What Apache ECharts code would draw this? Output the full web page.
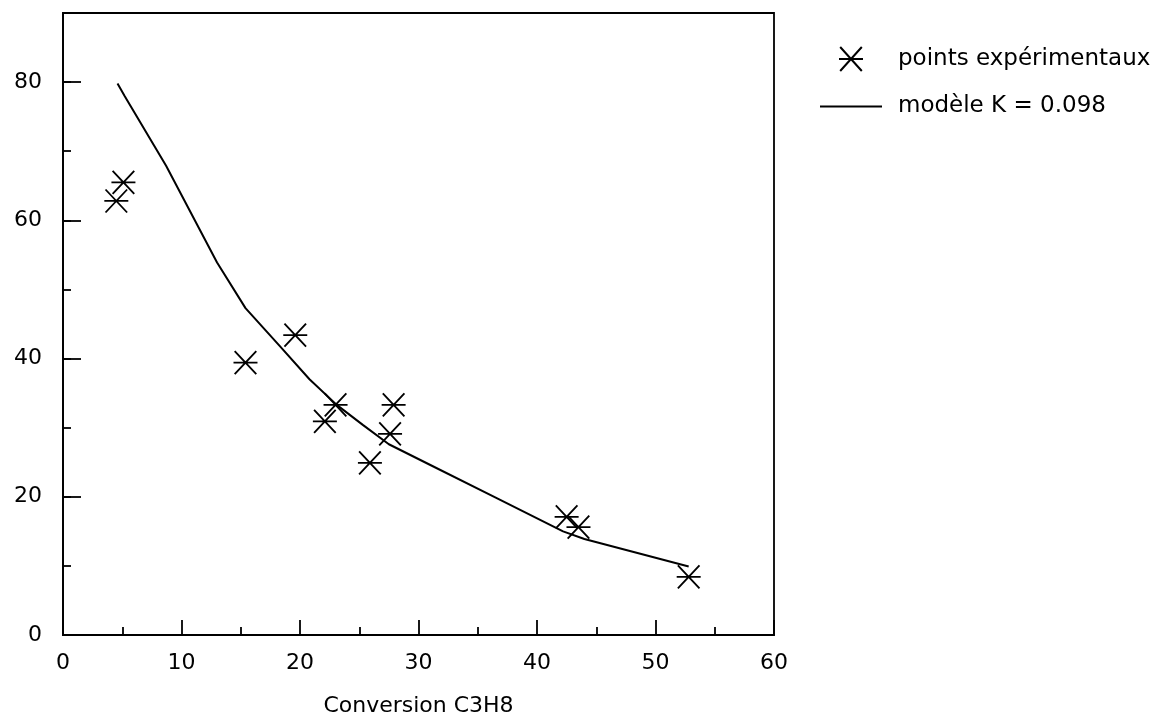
<!DOCTYPE html>
<html>
<head>
<meta charset="utf-8">
<script src="https://cdn.jsdelivr.net/npm/echarts@6/dist/echarts.min.js"></script>
<style>html,body{margin:0;padding:0;background:#fff;}#c{width:1155px;height:718px;}</style>
</head>
<body>
<div id="c"></div>
<script>
// Experimental points (Conversion C3H8, value)
const expX = [4.5, 5.1, 15.4, 19.6, 22.1, 23.0, 25.9, 27.6, 27.9, 42.5, 43.5, 52.8];
const expY = [62.8, 65.5, 39.4, 43.4, 30.9, 33.3, 24.9, 29.1, 33.3, 17.1, 15.6, 8.4];
// Model curve K = 0.098 (vertices)
const modelX = [4.6, 5.2, 8.7, 13.0, 15.4, 18.3, 20.8, 23.1, 25.3, 27.5, 31.0, 36.6, 42.2, 44.0, 52.8];
const modelY = [79.8, 78.0, 67.9, 53.9, 47.3, 41.8, 37.0, 33.3, 30.4, 27.6, 24.6, 19.8, 15.0, 13.9, 9.9];
const seriesNames = ['points expérimentaux', 'modèle K = 0.098'];
const xAxisName = 'Conversion C3H8';

const FONT = 'DejaVu Sans';
const starPath = 'path://M0,10L20,10M1,0L19,20M19,0L1,20';
const linePath = 'path://M0,0L62,0L62,2L0,2Z';

const el = document.getElementById('c');
const chart = echarts.init(el, null, {renderer: 'canvas'});
const option = {
  animation: false,
  backgroundColor: '#fff',
  textStyle: {fontFamily: FONT, color: '#000'},
  grid: {left: 63, right: 381, top: 13, bottom: 83, show: true, borderColor: '#000', borderWidth: 1.8,
    containLabel: false, outerBoundsMode: 'none'},
  legend: {
    orient: 'vertical', left: 815, top: 41, itemWidth: 62, itemHeight: 24, itemGap: 23,
    symbolKeepAspect: true,
    textStyle: {fontFamily: FONT, fontSize: 23, color: '#000', padding: [0, 0, 0, 11]},
    data: [{name: seriesNames[0], icon: starPath}, {name: seriesNames[1], icon: linePath}]
  },
  xAxis: {
    type: 'value', min: 0, max: 60, interval: 10,
    name: xAxisName, nameLocation: 'middle', nameGap: 60,
    nameTextStyle: {fontFamily: FONT, fontSize: 22, color: '#000'},
    axisLine: {show: true, lineStyle: {color: '#000', width: 1.8}},
    axisTick: {show: true, inside: true, length: 15, lineStyle: {color: '#000', width: 1.8}},
    minorTick: {show: true, splitNumber: 2, length: 8, lineStyle: {color: '#000', width: 1.8}},
    axisLabel: {fontFamily: FONT, fontSize: 22, color: '#000', margin: 17},
    splitLine: {show: false}
  },
  yAxis: [{
    type: 'value', min: 0, max: 90, interval: 20,
    axisLine: {show: true, lineStyle: {color: '#000', width: 1.8}},
    axisTick: {show: true, inside: true, length: 18, lineStyle: {color: '#000', width: 1.8}},
    axisLabel: {fontFamily: FONT, fontSize: 22, color: '#000', margin: 21, showMaxLabel: false,
      formatter: v => (v % 20 === 0 ? String(v) : '')},
    splitLine: {show: false}
  }, {
    type: 'value', min: 0, max: 90, interval: 10, position: 'left',
    axisLine: {show: false},
    axisTick: {show: true, inside: true, length: 8, lineStyle: {color: '#000', width: 1.8}},
    axisLabel: {show: false},
    splitLine: {show: false}
  }],
  series: [{
    name: seriesNames[0], type: 'scatter', yAxisIndex: 0,
    symbol: starPath, symbolSize: [24, 23], symbolKeepAspect: false,
    itemStyle: {color: 'rgba(0,0,0,0)', borderColor: '#000', borderWidth: 1.8, opacity: 1},
    data: expX.map((x, i) => [x, expY[i]])
  }, {
    name: seriesNames[1], type: 'line', yAxisIndex: 0,
    symbol: 'none', smooth: false,
    lineStyle: {color: '#000', width: 2},
    itemStyle: {color: '#000'},
    data: modelX.map((x, i) => [x, modelY[i]])
  }]
};
chart.setOption(option);
</script>
</body>
</html>
